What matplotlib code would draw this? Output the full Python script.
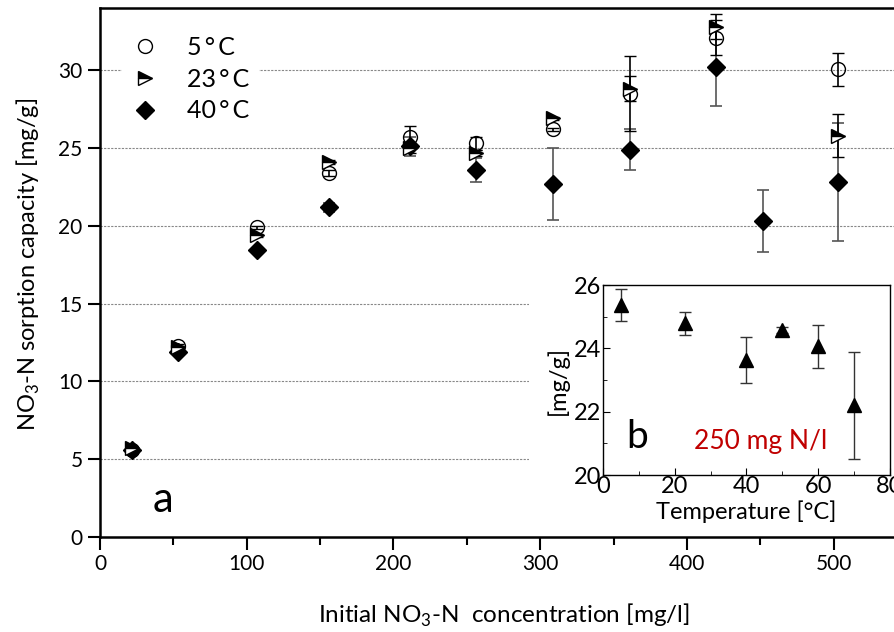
import numpy as np
import matplotlib
matplotlib.use("Agg")
import matplotlib.pyplot as plt
from matplotlib.patches import Rectangle
from matplotlib.lines import Line2D
from matplotlib.ticker import MultipleLocator

plt.rcParams['font.family'] = ['Lato', 'DejaVu Sans']
plt.rcParams['mathtext.fontset'] = 'custom'
plt.rcParams['mathtext.rm'] = 'Lato'

# main panel (a): sorption capacity vs initial concentration
conc = [22, 53, 107, 156, 211, 256, 309, 361, 420, 452, 503]
q_5 = [5.6, 12.3, 19.9, 23.4, 25.7, 25.3, 26.2, 28.5, 32.1, np.nan, 30.05]
e_5 = [0.1, 0.1, 0.1, 0.2, 0.7, 0.4, 0.1, 2.4, 1.1, 0, 1.05]
q_23 = [5.7, 12.2, 19.4, 24.1, 25.0, 24.7, 26.9, 28.8, 32.8, np.nan, 25.8]
e_23 = [0.1, 0.1, 0.1, 0.1, 0.3, 0.2, 0.1, 0.8, 0.8, 0, 1.4]
q_40 = [5.6, 11.9, 18.45, 21.2, 25.1, 23.6, 22.7, 24.9, 30.2, 20.3, 22.8]
e_40 = [0.1, 0.1, 0.1, 0.3, 0.6, 0.75, 2.3, 1.3, 2.5, 2.0, 3.8]

# inset (b): 250 mg N/l at different temperatures
temp = [5, 23, 40, 50, 60, 70]
q_t = [25.37, 24.79, 23.63, 24.58, 24.07, 22.2]
e_t = [0.51, 0.37, 0.72, 0.1, 0.68, 1.7]

fig = plt.figure(figsize=(8.95, 6.32), dpi=100)
ax = fig.add_axes([0.1117, 0.1503, 0.9017, 0.837])

grid_kw = dict(color='#888888', lw=0.8, ls=(0, (2, 1.2)), zorder=0.5)
for yv in [5, 10, 15, 20, 25, 30]:
    ax.axhline(yv, **grid_kw)

err_kw = dict(capsize=4.3, elinewidth=1.2, capthick=1.2, ls='none')
ax.errorbar(conc, q_40, yerr=e_40, marker='D', ms=9, mfc='black', mec='black',
            color='#555555', ecolor='#555555', zorder=3, **err_kw)
ax.errorbar(conc, q_5, yerr=e_5, marker='o', ms=10, mfc='none', mec='black',
            color='black', ecolor='black', mew=1.0, zorder=4, **err_kw)
ax.errorbar(conc, q_23, yerr=e_23, marker='>', ms=10, fillstyle='top',
            mfc='black', mec='black', mfcalt='white', mew=1.0,
            color='black', ecolor='black', zorder=5, **err_kw)

h5 = Line2D([], [], ls='none', marker='o', ms=10, mfc='none', mec='black', mew=1.0)
h23 = Line2D([], [], ls='none', marker='>', ms=10, fillstyle='top', mfc='black',
             mec='black', mfcalt='white', mew=1.0)
h40 = Line2D([], [], ls='none', marker='D', ms=9, mfc='black', mec='black')
leg = ax.legend([h5, h23, h40], ['5\u2009°\u2009C', '23\u2009°\u2009C', '40\u2009°\u2009C'],
                loc='upper left', bbox_to_anchor=(0.012, 0.99), fontsize=18,
                frameon=True, framealpha=1, edgecolor='none', facecolor='white',
                handlelength=1.0, handletextpad=1.2, labelspacing=0.35, borderpad=0.4)
leg.set_zorder(6)

ax.set_xlim(0, 550)
ax.set_ylim(0, 34)
ax.xaxis.set_major_locator(MultipleLocator(100))
ax.xaxis.set_minor_locator(MultipleLocator(50))
ax.yaxis.set_major_locator(MultipleLocator(5))
ax.tick_params(axis='both', which='major', direction='out', length=9, width=1.5,
               labelsize=15)
ax.tick_params(axis='x', which='minor', direction='out', length=6, width=1.5)
ax.spines['right'].set_visible(False)
for s in ['left', 'bottom', 'top']:
    ax.spines[s].set_linewidth(1.8)

ax.set_xlabel('Initial NO$_3$-N  concentration [mg/l]', fontsize=17.5)
ax.xaxis.set_label_coords(0.5, -0.123)
ax.set_ylabel('NO$_3$-N sorption capacity [mg/g]', fontsize=17)
ax.yaxis.set_label_coords(-0.072, 0.515)

ax.text(43, 2.4, 'a', fontsize=30, ha='center', va='center')

# white area behind the inset hides the gridlines
ax.add_patch(Rectangle((0.591, 0.157), 0.42, 0.41, transform=fig.transFigure,
                       facecolor='white', edgecolor='none', zorder=1.5))

ins = fig.add_axes([0.6737, 0.2484, 0.3207, 0.3006])
ins.errorbar(temp, q_t, yerr=e_t, marker='^', ms=10, mfc='black', mec='black',
             color='black', ecolor='#333333', capsize=4.3, elinewidth=1.0,
             capthick=1.0, ls='none')
ins.set_xlim(0, 80)
ins.set_ylim(20, 26)
ins.xaxis.set_major_locator(MultipleLocator(20))
ins.xaxis.set_minor_locator(MultipleLocator(10))
ins.yaxis.set_major_locator(MultipleLocator(2))
ins.yaxis.set_minor_locator(MultipleLocator(1))
ins.tick_params(which='major', direction='in', length=5, labelsize=17, pad=1)
ins.tick_params(which='minor', direction='in', length=3)
for s in ins.spines.values():
    s.set_linewidth(1.0)
ins.set_xlabel('Temperature [°C]', fontsize=17, labelpad=2)
ins.set_ylabel('[mg/g]', fontsize=17, labelpad=4)
ins.text(9.5, 21.2, 'b', fontsize=28, ha='center', va='center')
ins.text(44, 21.05, '250 mg N/l', fontsize=19, color='#C00000', ha='center', va='center')

fig.savefig('out.png', dpi=100)
